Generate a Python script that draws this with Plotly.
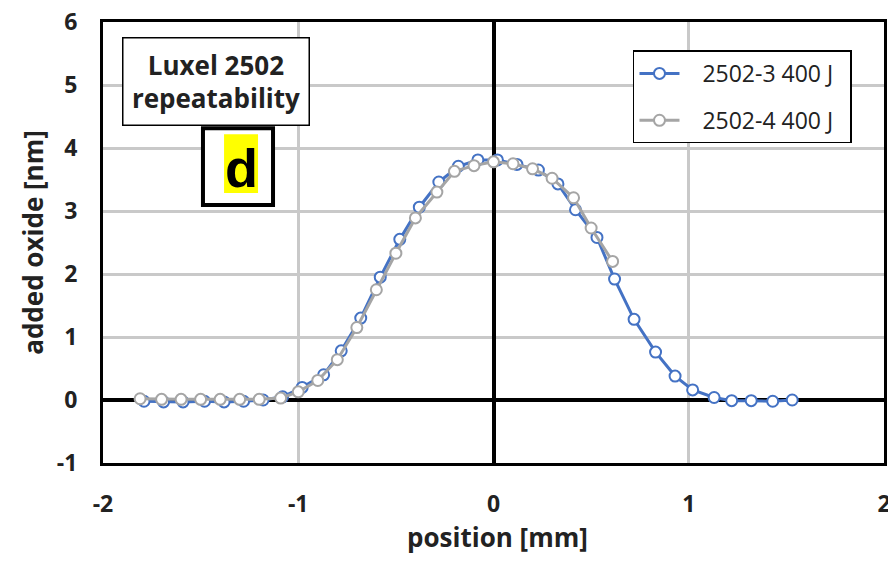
import plotly.graph_objects as go

# ---- data ----
x_2502_3 = [-1.79, -1.69, -1.59, -1.48, -1.38, -1.28, -1.18, -1.08, -0.98, -0.87,
            -0.78, -0.68, -0.58, -0.48, -0.38, -0.28, -0.18, -0.08, 0.02, 0.12,
            0.23, 0.33, 0.42, 0.53, 0.62, 0.72, 0.83, 0.93, 1.02, 1.13,
            1.22, 1.32, 1.43, 1.53]
y_2502_3 = [-0.02, -0.03, -0.03, -0.02, -0.03, -0.02, 0.00, 0.05, 0.20, 0.40,
            0.78, 1.30, 1.95, 2.55, 3.06, 3.46, 3.71, 3.81, 3.81, 3.74,
            3.65, 3.43, 3.02, 2.58, 1.92, 1.28, 0.76, 0.38, 0.16, 0.04,
            -0.01, -0.01, -0.02, 0.00]

x_2502_4 = [-1.81, -1.70, -1.60, -1.50, -1.40, -1.30, -1.20, -1.09, -1.00, -0.90,
            -0.80, -0.70, -0.60, -0.50, -0.40, -0.29, -0.20, -0.10, 0.00, 0.10,
            0.20, 0.30, 0.41, 0.50, 0.61]
y_2502_4 = [0.02, 0.01, 0.01, 0.01, 0.01, 0.01, 0.01, 0.03, 0.13, 0.31,
            0.64, 1.15, 1.75, 2.33, 2.89, 3.30, 3.63, 3.72, 3.78, 3.75,
            3.67, 3.52, 3.21, 2.73, 2.20]

series_names = ["2502-3 400 J", "2502-4 400 J"]
x_ticks = [-2, -1, 0, 1, 2]
y_ticks = [-1, 0, 1, 2, 3, 4, 5, 6]

BLUE = "#4472C4"
GRAY = "#A5A5A5"
FONT = "Open Sans"
TXT = "#222222"
PAD = "\u00a0\u00a0\u00a0"

fig = go.Figure()
fig.add_trace(go.Scatter(
    x=x_2502_3, y=y_2502_3, name=PAD + series_names[0] + "\u00a0\u00a0", mode="lines+markers",
    line=dict(color=BLUE, width=3),
    marker=dict(symbol="circle", size=11, color="white", line=dict(color=BLUE, width=2)),
    legendgroup="a",
))
fig.add_trace(go.Scatter(
    x=x_2502_4, y=y_2502_4, name=PAD + series_names[1] + "\u00a0\u00a0", mode="lines+markers",
    line=dict(color=GRAY, width=3),
    marker=dict(symbol="circle", size=11, color="white", line=dict(color=GRAY, width=2)),
    legendgroup="b",
))

axis_common = dict(
    showline=True, mirror="ticks", linewidth=3, linecolor="black",
    showgrid=True, gridcolor="#C9C9C9", gridwidth=3,
    zeroline=True, zerolinecolor="black", zerolinewidth=3.5,
    ticks="outside", tickcolor="rgba(0,0,0,0)",
    tickfont=dict(family=FONT, size=23, color=TXT, weight="bold"),
    automargin=False, ticklabeloverflow="allow",
)

fig.update_xaxes(
    range=[-2, 2], tickvals=x_ticks, ticktext=[str(v) for v in x_ticks], ticklen=18,
    **axis_common,
)
fig.update_yaxes(
    range=[-1, 6], tickvals=y_ticks, ticktext=[str(v) for v in y_ticks], ticklen=18,
    title=dict(text="<b>added oxide [nm]</b>", font=dict(family=FONT, size=26, color=TXT), standoff=6),
    **axis_common,
)

fig.update_layout(
    width=880, height=548,
    margin=dict(l=95, r=4, t=13.5, b=92.5),
    paper_bgcolor="white", plot_bgcolor="white",
    showlegend=True,
    legend=dict(
        x=0.6786, y=0.9355, xanchor="left", yanchor="top",
        bgcolor="white", bordercolor="black", borderwidth=1.5,
        font=dict(family=FONT, size=23, color=TXT),
        tracegroupgap=14, itemwidth=40,
    ),
    shapes=[
        dict(type="rect", xref="paper", yref="paper", x0=0.128, x1=0.2177, y0=0.585, y1=0.759,
             line=dict(color="black", width=4), fillcolor="white", layer="above"),
        dict(type="rect", xref="paper", yref="paper", x0=0.155, x1=0.1985, y0=0.612, y1=0.7455,
             line=dict(width=0), fillcolor="#FFFF00", layer="above"),
    ],
    annotations=[
        dict(text="<b>position [mm]</b>", xref="paper", yref="paper",
             x=0.5045, y=-0.168, xanchor="center", yanchor="middle", showarrow=False,
             font=dict(family=FONT, size=26, color=TXT)),
        dict(text="<b>Luxel 2502<br>repeatability</b>", xref="paper", yref="paper",
             x=0.1453, y=0.865, xanchor="center", yanchor="middle", showarrow=False,
             font=dict(family=FONT, size=26, color=TXT),
             bordercolor="black", borderwidth=1.5, borderpad=0, bgcolor="white",
             width=185, height=86),
        dict(text="<b>d</b>", xref="paper", yref="paper",
             x=0.1767, y=0.669, xanchor="center", yanchor="middle", showarrow=False,
             font=dict(family="Liberation Sans", size=54, color="black")),
    ],
)

fig.write_html("out.html")
